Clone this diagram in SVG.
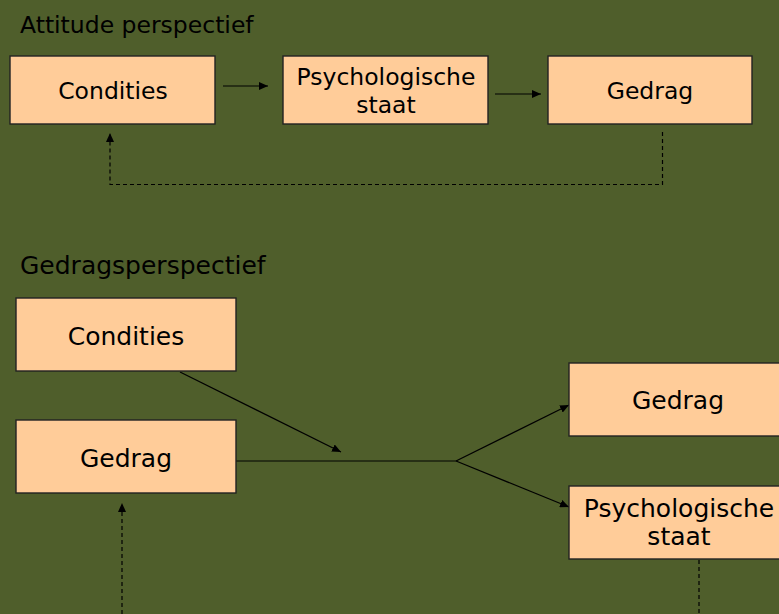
<svg xmlns="http://www.w3.org/2000/svg" width="779" height="614" viewBox="0 0 779 614">
<style>
.box{fill:#ffcc99;stroke:#222;stroke-width:1.4}
.t{font-family:"DejaVu Sans",Verdana,sans-serif;fill:#000;text-anchor:middle}
.s{font-size:23.5px}
.b{font-size:25px}
.h{font-family:"DejaVu Sans",Verdana,sans-serif;fill:#000}
.ln{fill:none;stroke:#000;stroke-width:1.2}
.ds{fill:none;stroke:#000;stroke-width:1.2;stroke-dasharray:4 3}
</style>
<defs>
<marker id="ah" markerUnits="userSpaceOnUse" markerWidth="10" markerHeight="8" refX="9" refY="4" orient="auto">
<path d="M0,0 L9,4 L0,8 Z" fill="#000"/>
</marker>
</defs>
<rect width="779" height="614" fill="#4f5e2b"/>
<text class="h" x="20" y="33" font-size="23.5">Attitude perspectief</text>
<text class="h" x="20" y="274" font-size="25">Gedragsperspectief</text>
<g id="conn">
<line class="ln" x1="223" y1="86" x2="268" y2="86" marker-end="url(#ah)"/>
<line class="ln" x1="495" y1="94" x2="541" y2="94" marker-end="url(#ah)"/>
<path class="ds" d="M662.5,132 V184.5 H110 V133" marker-end="url(#ah)"/>
<line class="ln" x1="180" y1="372" x2="341" y2="452" marker-end="url(#ah)"/>
<path class="ln" d="M236,461 H456"/>
<line class="ln" x1="456" y1="461" x2="569" y2="405" marker-end="url(#ah)"/>
<line class="ln" x1="456" y1="461" x2="569" y2="507" marker-end="url(#ah)"/>
<path class="ds" d="M699,560 V614"/>
<path class="ds" d="M122,614 V503" marker-end="url(#ah)"/>
</g>
<g id="a_cond"><rect class="box" x="10" y="56" width="205" height="68"/><text class="t s" x="113" y="99">Condities</text></g>
<g id="a_psych"><rect class="box" x="283" y="56" width="205" height="68"/><text class="t s" x="386" y="85">Psychologische</text><text class="t s" x="386" y="113">staat</text></g>
<g id="a_gedrag"><rect class="box" x="548" y="56" width="204" height="68"/><text class="t s" x="650" y="99">Gedrag</text></g>
<g id="b_cond"><rect class="box" x="16" y="298" width="220" height="73"/><text class="t b" x="126" y="345">Condities</text></g>
<g id="b_gedrag"><rect class="box" x="16" y="420" width="220" height="73"/><text class="t b" x="126" y="467">Gedrag</text></g>
<g id="b_gedrag2"><rect class="box" x="569" y="363" width="222" height="73"/><text class="t b" x="678" y="409">Gedrag</text></g>
<g id="b_psych"><rect class="box" x="569" y="486" width="222" height="73"/><text class="t b" x="679" y="517">Psychologische</text><text class="t b" x="679" y="545">staat</text></g>
</svg>
